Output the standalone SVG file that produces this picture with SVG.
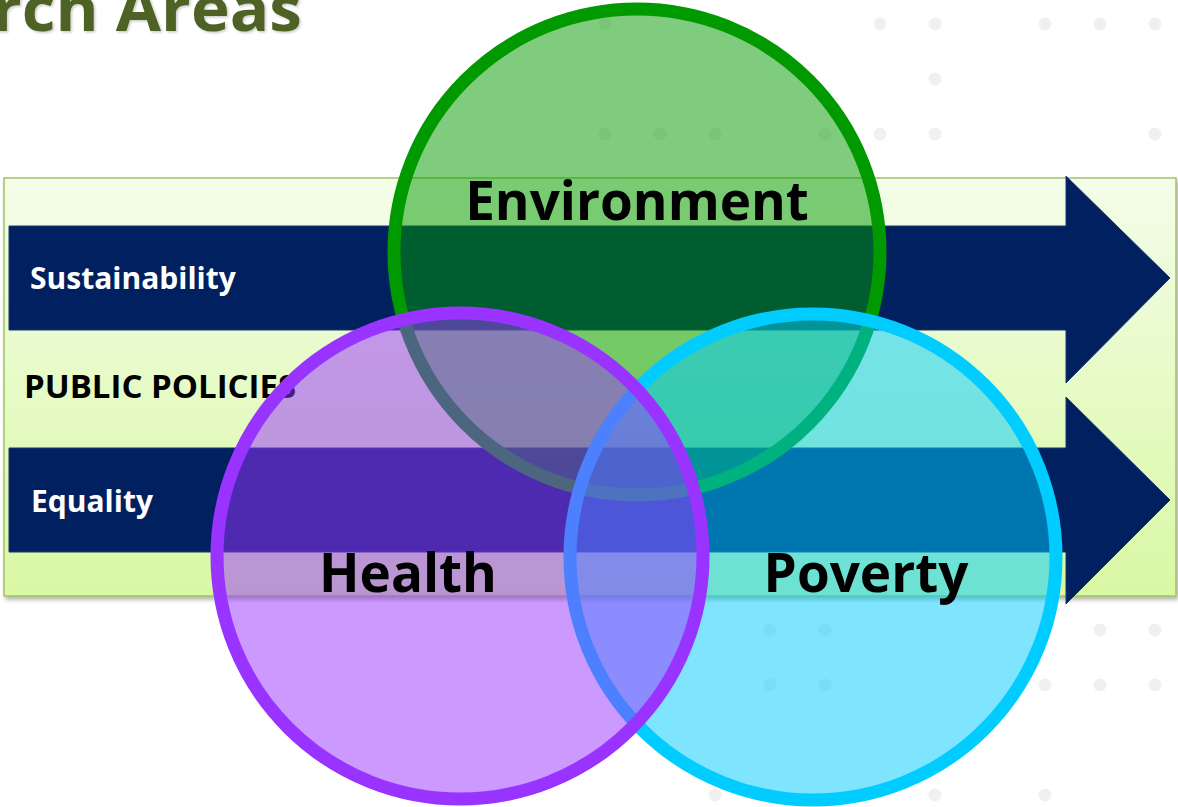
<svg xmlns="http://www.w3.org/2000/svg" width="1178" height="807" viewBox="0 0 1178 807">
  <defs>
    <linearGradient id="bgGrad" x1="0" y1="0" x2="0" y2="1">
      <stop offset="0" stop-color="#f4fde9"/>
      <stop offset="1" stop-color="#d9f8a4"/>
    </linearGradient>
    <filter id="shadow" x="-5%" y="-5%" width="110%" height="115%">
      <feDropShadow dx="2" dy="3" stdDeviation="2" flood-color="#000" flood-opacity="0.3"/>
    </filter>
    <filter id="tshadow" x="-5%" y="-20%" width="110%" height="140%">
      <feDropShadow dx="1.5" dy="1.5" stdDeviation="1" flood-color="#000" flood-opacity="0.2"/>
    </filter>
  </defs>
  <style>
    .dot{fill:#f0f0f0}
    .bold{font-family:"Open Sans","Liberation Sans",sans-serif;font-weight:700}
    .band{fill:#002060;stroke:#1a3670;stroke-width:1}
    .big{font-size:53px;fill:#000;text-anchor:middle}
    .circ{stroke-width:13;fill-opacity:0.5}
  </style>
  <rect width="1178" height="807" fill="#ffffff"/>

  <g id="title">
    <text class="bold" x="-8" y="31" font-size="62" fill="#4f6228" textLength="310" lengthAdjust="spacingAndGlyphs" filter="url(#tshadow)">rch Areas</text>
  </g>

  <g id="dots">
    <circle class="dot" cx="605" cy="24" r="6.5"/>
    <circle class="dot" cx="880" cy="24" r="6.5"/>
    <circle class="dot" cx="935" cy="24" r="6.5"/>
    <circle class="dot" cx="1045" cy="24" r="6.5"/>
    <circle class="dot" cx="1100" cy="24" r="6.5"/>
    <circle class="dot" cx="1155" cy="24" r="6.5"/>
    <circle class="dot" cx="935" cy="79" r="6.5"/>
    <circle class="dot" cx="605" cy="134" r="6.5"/>
    <circle class="dot" cx="660" cy="134" r="6.5"/>
    <circle class="dot" cx="715" cy="134" r="6.5"/>
    <circle class="dot" cx="825" cy="134" r="6.5"/>
    <circle class="dot" cx="880" cy="134" r="6.5"/>
    <circle class="dot" cx="935" cy="134" r="6.5"/>
    <circle class="dot" cx="1155" cy="134" r="6.5"/>
    <circle class="dot" cx="770" cy="630" r="6.5"/>
    <circle class="dot" cx="825" cy="630" r="6.5"/>
    <circle class="dot" cx="1100" cy="630" r="6.5"/>
    <circle class="dot" cx="1155" cy="630" r="6.5"/>
    <circle class="dot" cx="770" cy="685" r="6.5"/>
    <circle class="dot" cx="825" cy="685" r="6.5"/>
    <circle class="dot" cx="1045" cy="685" r="6.5"/>
    <circle class="dot" cx="1100" cy="685" r="6.5"/>
    <circle class="dot" cx="1155" cy="685" r="6.5"/>
    <circle class="dot" cx="715" cy="795" r="6.5"/>
    <circle class="dot" cx="770" cy="795" r="6.5"/>
    <circle class="dot" cx="935" cy="795" r="6.5"/>
    <circle class="dot" cx="1045" cy="795" r="6.5"/>
  </g>

  <g id="public-policies">
    <rect x="4" y="178" width="1172" height="418" fill="url(#bgGrad)" stroke="#a3c163" stroke-width="1.5" filter="url(#shadow)"/>
    <text class="bold" x="24" y="398" font-size="33" fill="#000">PUBLIC POLICIES</text>
  </g>

  <g id="sustainability">
    <path class="band" d="M9,226 H1066 V176 L1170,278 L1066,383 V330 H9 Z"/>
    <text class="bold" x="30" y="289" font-size="30" fill="#ffffff">Sustainability</text>
  </g>

  <g id="equality">
    <path class="band" d="M9,448 H1066 V397 L1170,500 L1066,604 V552 H9 Z"/>
    <text class="bold" x="31" y="512" font-size="30" fill="#ffffff">Equality</text>
  </g>

  <g id="environment">
    <circle class="circ" cx="637" cy="252" r="243" fill="#009900" stroke="#009900"/>
    <text class="bold big" x="637" y="220">Environment</text>
  </g>

  <g id="poverty">
    <circle class="circ" cx="813" cy="557" r="243" fill="#00ccff" stroke="#00ccff"/>
    <text class="bold big" x="866" y="592">Poverty</text>
  </g>

  <g id="health">
    <circle class="circ" cx="460" cy="556" r="243" fill="#9933ff" stroke="#9933ff"/>
    <text class="bold big" x="408" y="592">Health</text>
  </g>

  <g id="connectors"></g>
</svg>
